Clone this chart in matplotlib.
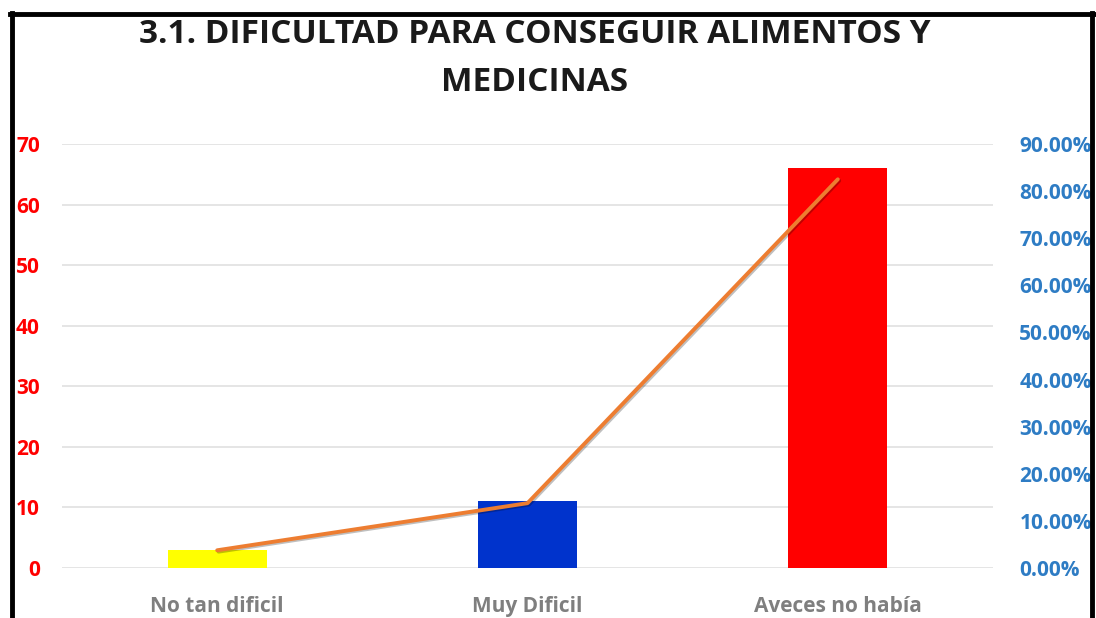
import matplotlib.pyplot as plt
from matplotlib.lines import Line2D
from matplotlib.ticker import FuncFormatter
import matplotlib.patheffects as pe

categories = ['No tan dificil', 'Muy Dificil', 'Aveces no había']
counts = [3, 11, 66]
percents = [0.0375, 0.1375, 0.825]
bar_colors = ['#FFFF00', '#0033CC', '#FF0000']

plt.rcParams['font.family'] = ['Open Sans', 'DejaVu Sans']
plt.rcParams['font.weight'] = 'bold'

fig = plt.figure(figsize=(10.96, 6.18), dpi=100)
ax = fig.add_axes([0.0566, 0.081, 0.8494, 0.686])
ax2 = ax.twinx()

x = range(len(categories))
ax.bar(x, counts, width=0.32, color=bar_colors, zorder=2)
ax2.plot(x, percents, color='#ED7D31', lw=2.8, zorder=3, solid_capstyle='round',
         path_effects=[pe.SimpleLineShadow(offset=(1, -1), alpha=0.25), pe.Normal()])

ax.set_xlim(-0.5, 2.5)
ax.set_ylim(0, 70)
ax.set_yticks(range(0, 71, 10))
ax2.set_ylim(0, 0.9)
ax2.set_yticks([i / 10 for i in range(10)])
ax2.yaxis.set_major_formatter(FuncFormatter(lambda v, p: f'{v * 100:.2f}%'))

ax.grid(axis='y', color='#E0E0E0', lw=1.2, zorder=0)
for a in (ax, ax2):
    for s in a.spines.values():
        s.set_visible(False)
    a.tick_params(length=0)

ax.set_xticks(list(x))
ax.set_xticklabels(categories, color='#7F7F7F', fontsize=15, fontweight='bold')
ax.tick_params(axis='x', pad=20)
ax.tick_params(axis='y', colors='#FF0000', labelsize=15, pad=16)
ax2.tick_params(axis='y', colors='#2E7CC4', labelsize=15, pad=19)

fig.text(0.488, 0.906, '3.1. DIFICULTAD PARA CONSEGUIR ALIMENTOS Y\nMEDICINAS',
         ha='center', va='center', fontsize=24, fontweight='bold',
         linespacing=1.6, color='#1A1A1A')

# black frame around the chart
fig.add_artist(Line2D([0.0110, 0.0110], [0, 0.9790], color='black', lw=3.5))
fig.add_artist(Line2D([0.0095, 0.9980], [0.9770, 0.9770], color='black', lw=3.5))
fig.add_artist(Line2D([0.9965, 0.9965], [0, 0.9790], color='black', lw=3.5))

fig.savefig('out.png', dpi=100)
